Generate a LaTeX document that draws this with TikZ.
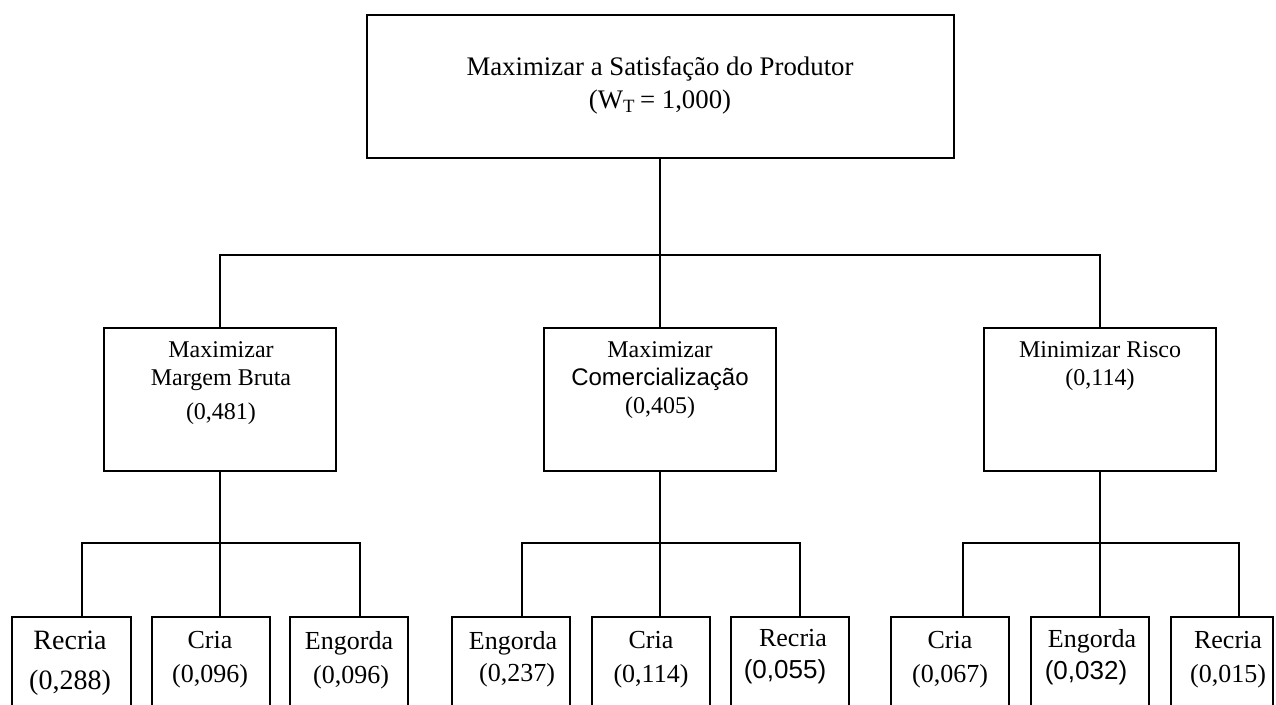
\documentclass[tikz,border=0pt]{standalone}
\usepackage{fontspec}
\setmainfont{Liberation Serif}
\setsansfont{Liberation Sans}
\begin{document}
\begin{tikzpicture}[x=0.5pt,y=-0.5pt,
  box/.style={draw,line width=1pt,inner sep=0pt,minimum width=116pt,minimum height=71.5pt},
  leaf/.style={draw,line width=1pt,inner sep=0pt,minimum width=59pt,minimum height=55pt,anchor=north},
  txt/.style={align=center,inner sep=0pt},
  wire/.style={line width=1pt}]
\useasboundingbox (0,0) rectangle (1276,705);
\clip (0,0) rectangle (1276,705);

% goal
\node[box,minimum width=293.5pt] (top) at (660,86.5) {};
\node[txt,font=\fontsize{13.4}{16.5}\selectfont] (ttop) at (660,85)
  {Maximizar a Satisfação do Produtor\\(W\textsubscript{T}\,= 1,000)};

% criteria
\node[box] (m1) at (220,399.5) {};
\node[box] (m2) at (660,399.5) {};
\node[box] (m3) at (1100,399.5) {};
\node[txt,font=\fontsize{12}{14}\selectfont] (tm1) at (221,383)
  {Maximizar\\Margem Bruta\\[3pt](0,481)};
\node[txt,font=\fontsize{12}{14}\selectfont] (tm2) at (660,380)
  {Maximizar\\{\sffamily Comercialização}\\(0,405)};
\node[txt,font=\fontsize{12}{14}\selectfont] (tm3) at (1100,366)
  {Minimizar Risco\\(0,114)};

% alternatives
\node[leaf,minimum width=59.5pt] (b1) at (71.5,616) {};
\node[leaf] (b2) at (210.5,616) {};
\node[leaf] (b3) at (349,616) {};
\node[leaf] (b4) at (511,616) {};
\node[leaf] (b5) at (650.5,616) {};
\node[leaf] (b6) at (789.5,616) {};
\node[leaf] (b7) at (950,616) {};
\node[leaf] (b8) at (1089.5,616) {};
\node[leaf,minimum width=51pt] (b9) at (1222,616) {};

\node[txt,font=\fontsize{14}{20}\selectfont] (tb1) at (70,663) {Recria\\(0,288)};
\node[txt,font=\fontsize{13}{17}\selectfont] (tb2) at (210,660) {Cria\\(0,096)};
\node[txt,font=\fontsize{13}{17}\selectfont] (tb3) at (349,660) {Engorda\\\hspace*{2pt}(0,096)};
\node[txt,font=\fontsize{13}{16}\selectfont] (tb4) at (513,659) {Engorda\\\hspace*{4pt}(0,237)};
\node[txt,font=\fontsize{13}{17}\selectfont] (tb5) at (651,660) {Cria\\(0,114)};
\node[txt,font=\fontsize{13}{16}\selectfont] (tb6) at (785,657) {\hspace*{8pt}Recria\\{\sffamily (0,055)}};
\node[txt,font=\fontsize{13}{17}\selectfont] (tb7) at (950,660) {Cria\\(0,067)};
\node[txt,font=\fontsize{13}{16}\selectfont] (tb8) at (1086,657) {\hspace*{6pt}Engorda\\{\sffamily (0,032)}};
\node[txt,font=\fontsize{13}{17}\selectfont] (tb9) at (1228,660) {Recria\\(0,015)};

% connectors
\coordinate (bus0) at (0,255);
\coordinate (bus1) at (0,543);
\draw[wire] (top.south) -- (m2.north);
\draw[wire] (m1.north) |- (top.south |- bus0) -| (m3.north);

\draw[wire] (m1.south) -- ([xshift=4.75pt]b2.north);
\draw[wire] ([xshift=5.25pt]b1.north) |- (m1.south |- bus1) -| ([xshift=5.5pt]b3.north);

\draw[wire] (m2.south) -- ([xshift=4.75pt]b5.north);
\draw[wire] ([xshift=5.5pt]b4.north) |- (m2.south |- bus1) -| ([xshift=5.25pt]b6.north);

\draw[wire] (m3.south) -- ([xshift=5.25pt]b8.north);
\draw[wire] ([xshift=6.5pt]b7.north) |- (m3.south |- bus1) -| ([xshift=8.5pt]b9.north);
\end{tikzpicture}
\end{document}
